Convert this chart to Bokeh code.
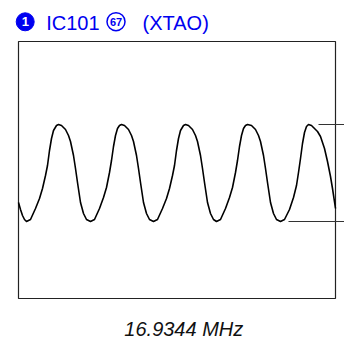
from bokeh.plotting import figure
from bokeh.models import ColumnDataSource
from bokeh.core.properties import value
from bokeh.embed import file_html
from bokeh.resources import INLINE

# ---- data (time units, amplitude units) ----
time = [0, 2, 4, 6, 8,
        12, 17, 21, 24, 27, 29, 31, 33, 35, 38, 40, 43, 47, 50, 52, 55, 57, 59, 62, 65, 68, 72,
        76, 81, 85, 88, 91, 93, 95, 97, 99, 101, 103, 106, 110, 113, 115, 118, 120, 122, 125, 128, 131, 135,
        139, 144, 148, 151, 154, 156, 158, 160, 162, 165, 167, 170, 174, 177, 179, 182, 184, 186, 189, 192, 195, 198,
        202, 207, 211, 214, 217, 219, 221, 223, 225, 227, 229, 233, 237, 240, 242, 245, 247, 249, 252, 255, 258, 262,
        266, 271, 275, 278, 280, 282, 284, 286, 288, 290, 293, 296, 299, 302, 306, 309, 312, 314, 317]
signal = [-32, -39, -45, -49, -51,
          -49, -38, -28, -18, -5, 5, 20, 32, 40, 45, 46, 45, 41, 35, 29, 15, 2, -12, -32, -43, -49, -51,
          -49, -38, -27, -17, -2, 10, 24, 35, 42, 45, 46, 45, 41, 35, 29, 15, 2, -12, -32, -43, -49, -51,
          -49, -38, -28, -18, -5, 5, 20, 32, 40, 45, 46, 45, 41, 35, 29, 15, 2, -12, -32, -43, -49, -51,
          -49, -38, -27, -17, -2, 10, 24, 35, 42, 45, 46, 45, 41, 35, 29, 15, 2, -12, -32, -43, -49, -51,
          -49, -39, -27, -15, -2, 12, 27, 38, 44, 46, 45, 42, 39, 34, 22, 9, -6, -18, -38]

title_main = "IC101"
title_pin = "67"
title_tail = "(XTAO)"
step_no = "1"
freq_label = "16.9344 MHz"

# ---- layout constants ----
SCREEN_T = (0, 317)
SCREEN_V = (-128, 129)
BLUE = "#0000f0"
FONT = value("Liberation Sans")

p = figure(width=344, height=353, x_range=(-18, 326), y_range=(-183, 170),
           x_axis_type=None, y_axis_type=None, min_border=0,
           outline_line_color=None, toolbar_location=None, output_backend="svg")
p.grid.visible = False
p.background_fill_color = "white"
p.border_fill_color = "white"

# scope screen frame
p.quad(left=[SCREEN_T[0]], right=[SCREEN_T[1]], bottom=[SCREEN_V[0]], top=[SCREEN_V[1]],
       fill_color=None, line_color="#222222", line_width=1.2)

# waveform
src = ColumnDataSource(dict(t=time, v=signal))
p.line("t", "v", source=src, line_color="black", line_width=1.6, line_join="round")

# amplitude markers at max / min
vmax, vmin = max(signal), min(signal)
p.segment(x0=[300, 270], y0=[vmax, vmin], x1=[326, 326], y1=[vmax, vmin],
          line_color="#333333", line_width=1.2)

# title decorations
p.scatter(x=[6.7], y=[148.7], size=18, marker="circle", fill_color=BLUE, line_color=BLUE)
p.text(x=[6.9], y=[148.7], text=[step_no], text_color="white", text_font_size="13px",
       text_font_style="bold", text_align="center", text_baseline="middle", text_font=FONT)
p.scatter(x=[97.5], y=[148.8], size=18, marker="circle", fill_color="white",
          line_color=BLUE, line_width=1.5)
p.text(x=[97.5], y=[148.8], text=[title_pin], text_color=BLUE, text_font_size="11px",
       text_font_style="bold", text_align="center", text_baseline="middle", text_font=FONT)

p.text(x=[27.7], y=[148], text=[title_main], text_color=BLUE, text_font_size="20px",
       text_align="left", text_baseline="middle", text_font=FONT)
p.text(x=[124], y=[148], text=[title_tail], text_color=BLUE, text_font_size="20px",
       text_align="left", text_baseline="middle", text_font=FONT)
p.text(x=[165.3], y=[-158], text=[freq_label], text_color="#111111", text_font_size="20px",
       text_font_style="italic", text_align="center", text_baseline="middle", text_font=FONT)

open("out.html", "w").write(file_html(p, INLINE))
